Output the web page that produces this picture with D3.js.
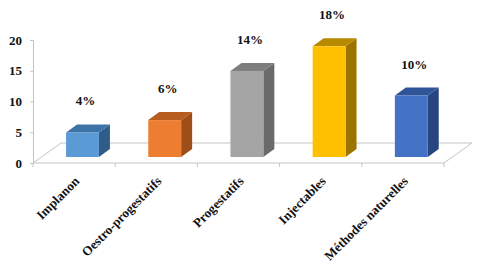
<!DOCTYPE html>
<html>
<head>
<meta charset="utf-8">
<style>
body { margin: 0; background: #fff; }
svg text { font-family: 'Liberation Serif', 'Times New Roman', serif; font-weight: bold; fill: #111; }
</style>
</head>
<body>
<svg width="478" height="276"></svg>
<script src="https://cdn.jsdelivr.net/npm/d3@7"></script>
<script>

// data
var categories = ["Implanon", "Oestro-progestatifs", "Progestatifs", "Injectables", "Méthodes naturelles"];
var values = [4, 6, 14, 18, 10];
var valueLabels = ["4%", "6%", "14%", "18%", "10%"];
var yTicks = [0, 5, 10, 15, 20];

// colours: front, top, side
var colors = [
  ["#5b9bd5", "#3e73a8", "#2f5d8a"],
  ["#ed7d31", "#b85d20", "#9e4e18"],
  ["#a5a5a5", "#7d7d7d", "#6a6a6a"],
  ["#ffc000", "#b78a00", "#9c7500"],
  ["#4472c4", "#2f5497", "#27467f"]
];

var svg = d3.select("svg");

var plotLeft = 33, plotRight = 444, plotBottom = 163, plotTop = 40;
var floorDx = 28, floorDy = -20;   // depth of the floor
var barDx = 11, barDy = -8;        // depth of a bar
var offX = 8.4, offY = -6;         // bars stand mid-depth

var x = d3.scaleBand()
    .domain(categories)
    .range([plotLeft, plotRight])
    .paddingInner(0.6)
    .paddingOuter(0.3);

var y = d3.scaleLinear()
    .domain([0, 20])
    .range([plotBottom, plotTop]);

// floor
var fx = x.range();
svg.append("path")
    .attr("d", "M" + fx[0] + "," + y(0) +
               "L" + fx[1] + "," + y(0) +
               "L" + (fx[1] + floorDx) + "," + (y(0) + floorDy) +
               "L" + (fx[0] + floorDx) + "," + (y(0) + floorDy) + "Z")
    .attr("fill", "none")
    .attr("stroke", "#c4c4c4")
    .attr("stroke-width", 1);

// category ticks on the front edge
var step = x.step();
svg.append("g").selectAll("line")
    .data(d3.range(categories.length + 1))
  .enter().append("line")
    .attr("x1", function(i) { return plotLeft + i * step; })
    .attr("x2", function(i) { return plotLeft + i * step; })
    .attr("y1", y(0))
    .attr("y2", y(0) + 4)
    .attr("stroke", "#c4c4c4");

// y axis
var yAxis = svg.append("g")
    .attr("transform", "translate(" + plotLeft + ",0)")
    .call(d3.axisLeft(y).tickValues(yTicks).tickSize(3).tickPadding(8));
yAxis.select(".domain").attr("stroke", "#c4c4c4");
yAxis.selectAll(".tick line").attr("stroke", "#c4c4c4");
yAxis.selectAll(".tick text")
    .attr("font-size", 13)
    .attr("font-family", "'Liberation Serif', serif")
    .attr("font-weight", "bold")
    .attr("fill", "#111");

// bars
var bars = svg.append("g").selectAll("g")
    .data(categories)
  .enter().append("g");

bars.each(function(c, i) {
  var g = d3.select(this);
  var x0 = x(c) + offX, x1 = x0 + x.bandwidth();
  var yb = y(0) + offY, yt = y(values[i]) + offY;
  // side
  g.append("path")
      .attr("d", "M" + x1 + "," + yb + "L" + (x1 + barDx) + "," + (yb + barDy) +
                 "L" + (x1 + barDx) + "," + (yt + barDy) + "L" + x1 + "," + yt + "Z")
      .attr("fill", colors[i][2]);
  // top
  g.append("path")
      .attr("d", "M" + x0 + "," + yt + "L" + x1 + "," + yt +
                 "L" + (x1 + barDx) + "," + (yt + barDy) + "L" + (x0 + barDx) + "," + (yt + barDy) + "Z")
      .attr("fill", colors[i][1]);
  // front
  g.append("rect")
      .attr("x", x0)
      .attr("y", yt)
      .attr("width", x.bandwidth())
      .attr("height", yb - yt)
      .attr("fill", colors[i][0]);
  // value label
  g.append("text")
      .attr("x", x0 + x.bandwidth() / 2 + 3)
      .attr("y", yt - 27)
      .attr("text-anchor", "middle")
      .attr("font-size", 13)
      .text(valueLabels[i]);
});

// category labels
svg.append("g").selectAll("text")
    .data(categories)
  .enter().append("text")
    .attr("font-size", 13)
    .attr("text-anchor", "end")
    .attr("transform", function(c) {
      return "translate(" + (x(c) + x.bandwidth() / 2 + 6) + "," + 182 + ") rotate(-45)";
    })
    .text(function(c) { return c; });

</script>
</body>
</html>
